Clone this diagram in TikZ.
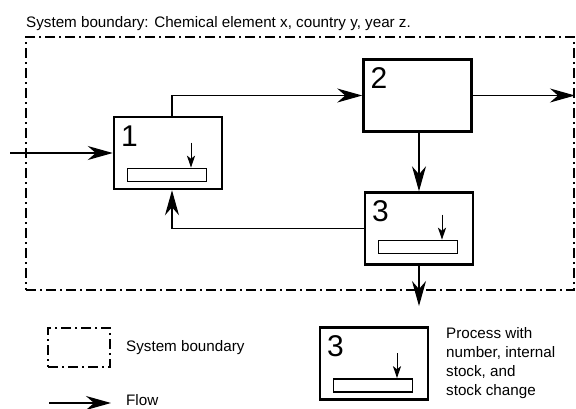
\documentclass[tikz,border=0pt]{standalone}
\usepackage{fontspec}
\setmainfont{Liberation Sans}
\usetikzlibrary{arrows.meta}
\begin{document}
\begin{tikzpicture}[x=1pt,y=-1pt,
	bound/.style={draw,line width=2pt,dash pattern=on 10pt off 4pt on 2pt off 4pt,inner sep=0pt},
	process/.style={draw,line width=2.5pt,minimum width=108pt,minimum height=72pt,inner sep=0pt},
	stock/.style={draw,line width=1.6pt,minimum width=79pt,minimum height=13pt,inner sep=0pt},
	num/.style={anchor=base west,inner sep=0pt,font=\fontsize{30pt}{30pt}\selectfont},
	txt/.style={anchor=base west,inner sep=0pt,font=\fontsize{15.2pt}{19pt}\selectfont},
	flow/.style={line width=1.2pt,-{Stealth[length=25pt,width=14pt,inset=8pt]}},
	change/.style={line width=1pt,-{Stealth[length=12pt,width=8pt,inset=3pt]}}]
		\useasboundingbox (0,0) rectangle (576,408);
		%system boundary
		\node[txt] (title) at (26,27) {System boundary: Chemical element x, country y, year z.};
		\node[bound,minimum width=548pt,minimum height=253pt] (sys) at (300,163.5) {};
		
		%processes
		\foreach \n/\t/\x/\y in {1/1/168/153, 2/2/417.5/95.5, 3/3/419/228.5, 4/3/374/363.5}{
			\node[process] (p\n) at (\x,\y) {};
			\node[num] (n\n) at (\x-47,\y-7) {\t};
		}
		
		%stocks and stock changes
		\foreach \n/\dy in {1/22, 3/18.5, 4/22}{
			\node[stock] (s\n) at ([xshift=-1pt,yshift=-\dy pt]p\n.center) {};
			\coordinate (c\n) at ([xshift=24pt,yshift=25pt]s\n.north);
			\draw[change] (c\n) -- (c\n |- s\n.north);
		}
		
		%flows
		\coordinate (in) at (10,153);
		\coordinate (out2) at (575,95.5);
		\coordinate (out3) at (419,306);
		\draw[flow] (in) -- (p1.west);
		\draw[flow] ([xshift=4pt]p1.north) |- (p2.west);
		\draw[flow] (p2.east) -- (out2);
		\draw[flow] (p3.north |- p2.south) -- (p3.north);
		\draw[flow] (p3.west) -| ([xshift=4pt]p1.south);
		\draw[flow] (p3.south) -- (out3);
		
		%legend
		\node[bound,minimum width=62pt,minimum height=39pt] (lb) at (79,347.5) {};
		\node[txt] (lbt) at (126,351) {System boundary};
		\coordinate (lf0) at (49,403);
		\coordinate (lf1) at (111,403);
		\draw[flow] (lf0) -- (lf1);
		\node[txt] (lft) at (126,405.5) {Flow};
		\node[txt,anchor=north west,align=left] (lpt) at (446,327) {Process with\\number, internal\\stock, and\\stock change};
\end{tikzpicture}
\end{document}
